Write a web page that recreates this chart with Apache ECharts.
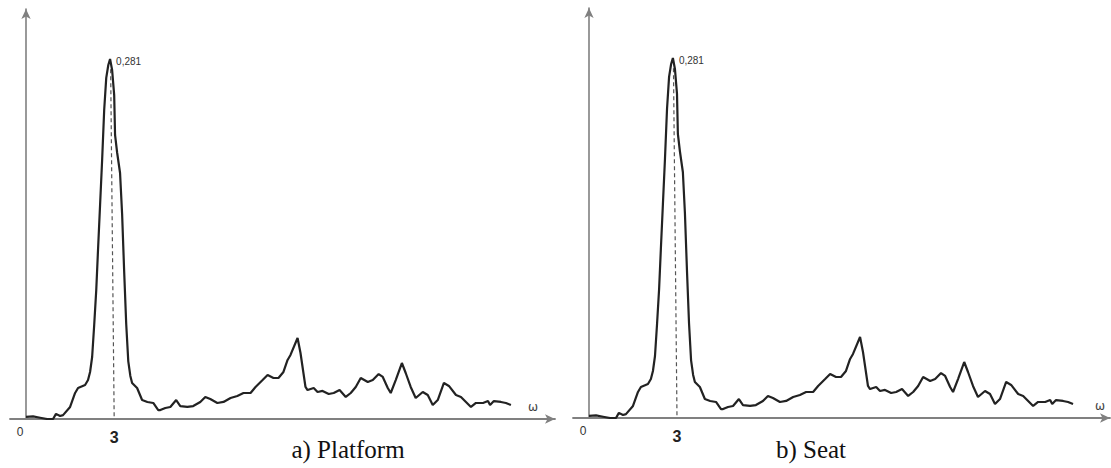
<!DOCTYPE html>
<html>
<head>
<meta charset="utf-8">
<script src="https://cdn.jsdelivr.net/npm/echarts@6/dist/echarts.min.js"></script>
<style>
html,body{margin:0;padding:0;background:#fff;}
#chart{width:1111px;height:468px;}
</style>
</head>
<body>
<div id="chart"></div>
<script>
// frequency ω (shared sample positions)
const omega = [0, 0.24, 0.48, 0.72, 0.92, 1.02, 1.16, 1.26, 1.50, 1.67,
  1.77, 2.01, 2.11, 2.18, 2.25, 2.32, 2.39, 2.45, 2.52, 2.59,
  2.66, 2.73, 2.80, 2.86, 2.93, 3.00, 3.03, 3.10, 3.20, 3.27,
  3.34, 3.41, 3.48, 3.55, 3.61, 3.78, 3.95, 4.13, 4.33, 4.50,
  4.57, 4.74, 4.91, 5.11, 5.25, 5.49, 5.69, 5.93, 6.10, 6.27,
  6.51, 6.72, 6.96, 7.19, 7.40, 7.64, 7.81, 8.05, 8.22, 8.42,
  8.59, 8.76, 8.90, 9.00, 9.24, 9.34, 9.51, 9.58, 9.79, 9.92,
  10.09, 10.30, 10.47, 10.67, 10.88, 11.05, 11.22, 11.39, 11.63, 11.80,
  12.00, 12.14, 12.31, 12.41, 12.58, 12.79, 12.92, 13.09, 13.26, 13.50,
  13.67, 13.84, 14.01, 14.22, 14.39, 14.63, 14.80, 14.97, 15.14, 15.31,
  15.55, 15.72, 15.79, 15.92, 16.16, 16.33, 16.50];

// a) Platform spectral density
const platform = [0.0016, 0.0020, 0.0010, 0.0000, 0.0000, 0.0040, 0.0023, 0.0030, 0.0094, 0.0203,
  0.0242, 0.0265, 0.0304, 0.0367, 0.0484, 0.0734, 0.1007, 0.1319, 0.1670, 0.2022,
  0.2412, 0.2662, 0.2763, 0.2810, 0.2724, 0.2530, 0.2217, 0.2080, 0.1920, 0.1600,
  0.1150, 0.0740, 0.0450, 0.0336, 0.0281, 0.0242, 0.0148, 0.0133, 0.0125, 0.0070,
  0.0070, 0.0086, 0.0094, 0.0148, 0.0101, 0.0094, 0.0101, 0.0133, 0.0172, 0.0156,
  0.0125, 0.0133, 0.0164, 0.0180, 0.0203, 0.0203, 0.0250, 0.0304, 0.0343, 0.0320,
  0.0320, 0.0367, 0.0461, 0.0500, 0.0632, 0.0515, 0.0250, 0.0226, 0.0242, 0.0211,
  0.0219, 0.0195, 0.0203, 0.0226, 0.0172, 0.0203, 0.0250, 0.0320, 0.0289, 0.0304,
  0.0351, 0.0328, 0.0242, 0.0203, 0.0304, 0.0437, 0.0359, 0.0250, 0.0164, 0.0211,
  0.0187, 0.0109, 0.0148, 0.0281, 0.0258, 0.0187, 0.0172, 0.0133, 0.0094, 0.0125,
  0.0125, 0.0140, 0.0109, 0.0140, 0.0133, 0.0125, 0.0109];

// b) Seat spectral density
const seat = [0.0016, 0.0020, 0.0010, 0.0000, 0.0000, 0.0040, 0.0023, 0.0030, 0.0094, 0.0203,
  0.0242, 0.0265, 0.0304, 0.0367, 0.0484, 0.0734, 0.1007, 0.1319, 0.1670, 0.2022,
  0.2412, 0.2662, 0.2763, 0.2810, 0.2724, 0.2530, 0.2217, 0.2080, 0.1920, 0.1600,
  0.1150, 0.0740, 0.0450, 0.0336, 0.0281, 0.0242, 0.0148, 0.0133, 0.0125, 0.0070,
  0.0070, 0.0086, 0.0094, 0.0148, 0.0101, 0.0094, 0.0101, 0.0133, 0.0172, 0.0156,
  0.0125, 0.0133, 0.0164, 0.0180, 0.0203, 0.0203, 0.0250, 0.0304, 0.0343, 0.0320,
  0.0320, 0.0367, 0.0461, 0.0500, 0.0632, 0.0515, 0.0250, 0.0226, 0.0242, 0.0211,
  0.0219, 0.0195, 0.0203, 0.0226, 0.0172, 0.0203, 0.0250, 0.0320, 0.0289, 0.0304,
  0.0351, 0.0328, 0.0242, 0.0203, 0.0304, 0.0437, 0.0359, 0.0250, 0.0164, 0.0211,
  0.0187, 0.0109, 0.0148, 0.0281, 0.0258, 0.0187, 0.0172, 0.0133, 0.0094, 0.0125,
  0.0125, 0.0140, 0.0109, 0.0140, 0.0133, 0.0125, 0.0109];

const tickValues = [0, 3];
const tickLabels = ['0', '3'];
const peakOmega = 2.86;
const peakValue = 0.281;
const peakLabel = '0,281';
const markOmega = 3;
const captions = ['a) Platform', 'b) Seat'];
const axisName = 'ω';

const zip = (xs, ys) => xs.map((x, i) => [x, ys[i]]);

const axisColor = '#808080';
const lineColor = '#222';

function makeX(gi, max, nameGap) {
  return {
    gridIndex: gi, type: 'value', min: -0.545, max: max,
    axisLine: { show: true, onZero: true, symbol: ['none', 'arrow'], symbolSize: [7, 10],
      lineStyle: { color: axisColor, width: 1.8 } },
    axisTick: { show: false },
    splitLine: { show: false },
    axisLabel: {
      customValues: tickValues, margin: 7, color: '#222',
      formatter: v => (v === 0 ? '{o|' + tickLabels[0] + '}' : '{t|' + tickLabels[1] + '}'),
      rich: {
        o: { fontSize: 12, fontFamily: 'Liberation Sans', color: '#333', padding: [0, 12, 0, 0] },
        t: { fontSize: 16, fontFamily: 'Liberation Sans', fontWeight: 'bold', color: '#222', padding: [3, 0, 0, 0] }
      }
    },
    name: axisName, nameLocation: 'end', nameGap: nameGap,
    nameTextStyle: { fontSize: 12, fontFamily: 'DejaVu Sans', color: '#444', verticalAlign: 'bottom', padding: [0, 0, 6, 0] }
  };
}
function makeY(gi) {
  return {
    gridIndex: gi, type: 'value', min: 0, max: 0.32,
    axisLine: { show: true, onZero: true, symbol: ['none', 'arrow'], symbolSize: [7, 10],
      lineStyle: { color: axisColor, width: 1.6 } },
    axisTick: { show: false }, axisLabel: { show: false }, splitLine: { show: false }
  };
}
function curve(gi, ys) {
  return {
    type: 'line', xAxisIndex: gi, yAxisIndex: gi, data: zip(omega, ys),
    showSymbol: false, symbol: 'none', smooth: false,
    lineStyle: { color: lineColor, width: 2.2 },
    markPoint: {
      symbol: 'circle', symbolSize: 0,
      data: [{ coord: [peakOmega, peakValue], value: peakLabel }],
      label: { show: true, position: 'right', distance: 6, offset: [0, 3], formatter: peakLabel,
        fontSize: 10, fontFamily: 'Liberation Sans', color: '#333' }
    },
    z: 3
  };
}
function dashed(gi) {
  return {
    type: 'line', xAxisIndex: gi, yAxisIndex: gi,
    data: [[peakOmega + 0.02, peakValue - 0.008], [markOmega, 0]],
    showSymbol: false, symbol: 'none',
    lineStyle: { color: '#555', width: 1.2, type: [4, 3] }, z: 2
  };
}

const chart = echarts.init(document.getElementById('chart'), null, { renderer: 'svg' });
chart.setOption({
  backgroundColor: '#fff',
  animation: false,
  grid: [
    { left: 10, top: 9, width: 545, height: 410 },
    { left: 573, top: 8, width: 537, height: 410 }
  ],
  xAxis: [makeX(0, 18, -27), makeX(1, 17.76, -15)],
  yAxis: [makeY(0), makeY(1)],
  series: [curve(0, platform), dashed(0), curve(1, seat), dashed(1)],
  graphic: [
    { type: 'text', x: 348, y: 449, style: { text: captions[0], textAlign: 'center', textVerticalAlign: 'middle',
      fontFamily: 'Liberation Serif', fontSize: 25, fill: '#111' } },
    { type: 'text', x: 811, y: 449, style: { text: captions[1], textAlign: 'center', textVerticalAlign: 'middle',
      fontFamily: 'Liberation Serif', fontSize: 25, fill: '#111' } }
  ]
});
</script>
</body>
</html>
